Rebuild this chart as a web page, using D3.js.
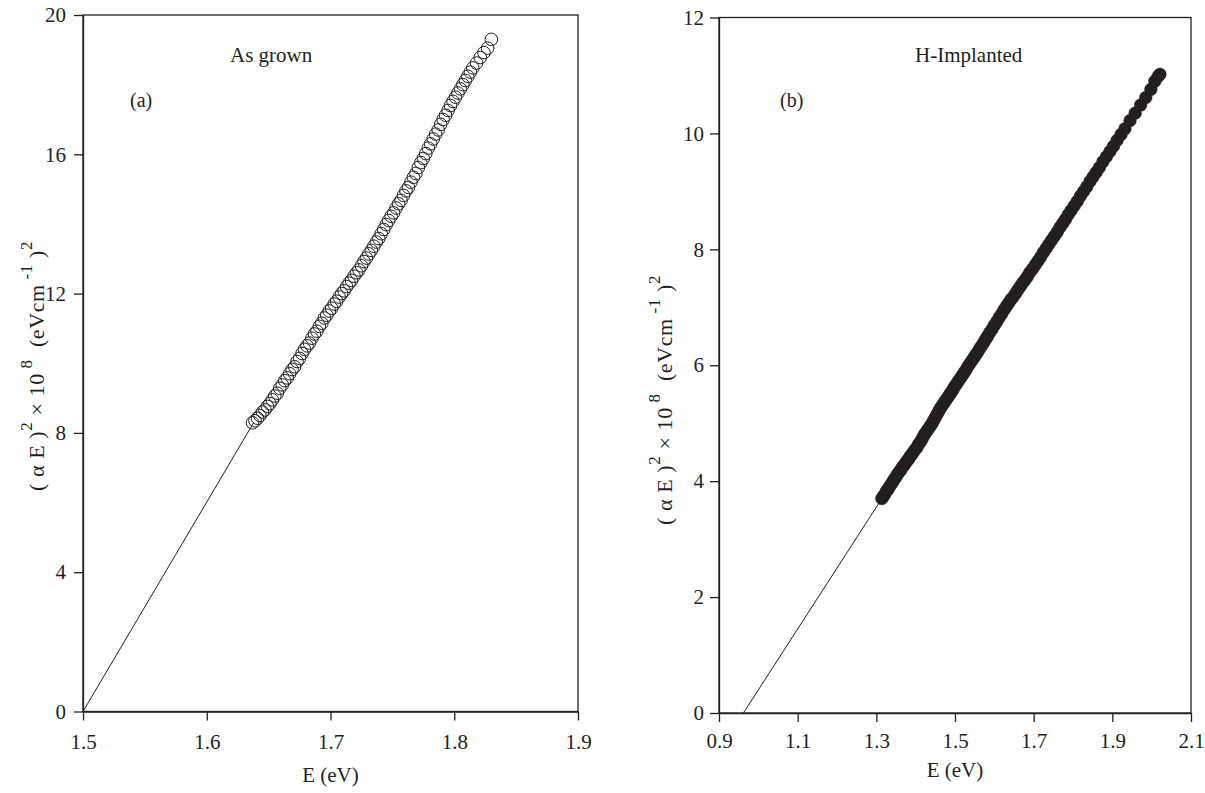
<!DOCTYPE html>
<html><head><meta charset="utf-8">
<script src="https://cdn.jsdelivr.net/npm/d3@7"></script>
<style>
body{margin:0;background:#fff;}
svg text{font-family:"Liberation Serif","DejaVu Serif",serif !important;fill:#231f20;}
</style></head>
<body><svg id="c" width="1205" height="793"></svg>
<script>
// ---- Panel (a): As grown ----
const grownE = [1.637,1.639,1.641,1.643,1.645,1.647,1.649,1.651,1.653,1.655,1.657,1.659,1.661,1.663,1.665,1.667,1.669,1.671,1.673,1.675,1.677,1.679,1.681,1.683,1.685,1.687,1.689,1.691,1.693,1.695,1.697,1.699,1.701,1.703,1.705,1.707,1.709,1.711,1.713,1.715,1.717,1.719,1.721,1.723,1.725,1.727,1.729,1.731,1.733,1.735,1.737,1.739,1.741,1.743,1.745,1.747,1.749,1.751,1.753,1.755,1.757,1.759,1.761,1.763,1.765,1.767,1.769,1.771,1.773,1.775,1.777,1.779,1.781,1.783,1.785,1.787,1.789,1.791,1.793,1.795,1.797,1.799,1.801,1.803,1.805,1.807,1.809,1.811,1.813,1.815,1.818,1.821,1.824,1.827,1.830];
const grownY = [8.29,8.35,8.42,8.50,8.60,8.66,8.76,8.84,8.95,9.06,9.14,9.28,9.38,9.50,9.58,9.70,9.82,9.90,10.05,10.14,10.28,10.40,10.50,10.58,10.72,10.84,10.92,11.06,11.15,11.30,11.38,11.50,11.58,11.70,11.78,11.90,12.00,12.08,12.20,12.30,12.38,12.50,12.60,12.68,12.80,12.92,13.02,13.14,13.24,13.36,13.48,13.58,13.72,13.84,13.98,14.10,14.22,14.32,14.46,14.58,14.68,14.82,14.95,15.05,15.20,15.34,15.45,15.62,15.76,15.88,16.02,16.18,16.30,16.44,16.58,16.70,16.86,17.00,17.12,17.26,17.40,17.52,17.64,17.76,17.88,18.00,18.12,18.24,18.36,18.48,18.62,18.78,18.92,19.05,19.30];
const grownFitE = [1.5, 1.638];
const grownFitY = [0, 8.3];
const grownXTicks = [1.5,1.6,1.7,1.8,1.9];
const grownYTicks = [0,4,8,12,16,20];

// ---- Panel (b): H-Implanted ----
const implE = [1.314,1.318,1.322,1.326,1.330,1.334,1.338,1.342,1.346,1.350,1.354,1.358,1.362,1.366,1.370,1.374,1.378,1.382,1.386,1.390,1.394,1.398,1.402,1.406,1.410,1.414,1.418,1.422,1.426,1.430,1.434,1.438,1.442,1.446,1.450,1.454,1.458,1.462,1.466,1.470,1.474,1.478,1.482,1.486,1.490,1.494,1.498,1.503,1.508,1.513,1.518,1.523,1.528,1.533,1.538,1.543,1.548,1.553,1.558,1.563,1.568,1.573,1.578,1.583,1.588,1.594,1.600,1.606,1.612,1.618,1.624,1.630,1.636,1.642,1.648,1.654,1.660,1.666,1.672,1.678,1.684,1.690,1.697,1.704,1.711,1.718,1.725,1.732,1.739,1.746,1.753,1.760,1.767,1.774,1.781,1.788,1.795,1.803,1.811,1.819,1.827,1.835,1.843,1.851,1.859,1.867,1.876,1.885,1.894,1.903,1.912,1.922,1.932,1.945,1.958,1.972,1.985,1.998,2.008,2.016,2.021];
const implY = [3.70,3.74,3.78,3.83,3.86,3.91,3.95,3.99,4.04,4.07,4.12,4.16,4.19,4.24,4.27,4.31,4.35,4.38,4.43,4.46,4.50,4.54,4.57,4.62,4.66,4.70,4.75,4.80,4.84,4.88,4.92,4.96,5.00,5.05,5.10,5.15,5.20,5.25,5.29,5.33,5.37,5.41,5.45,5.49,5.53,5.57,5.62,5.67,5.72,5.77,5.82,5.87,5.92,5.98,6.03,6.08,6.13,6.18,6.23,6.29,6.34,6.39,6.45,6.50,6.56,6.62,6.69,6.75,6.82,6.88,6.95,7.01,7.07,7.13,7.18,7.24,7.30,7.36,7.42,7.47,7.53,7.60,7.66,7.73,7.80,7.87,7.95,8.02,8.09,8.16,8.23,8.30,8.38,8.45,8.52,8.60,8.67,8.75,8.83,8.92,9.00,9.08,9.17,9.25,9.33,9.41,9.51,9.60,9.69,9.78,9.88,9.98,10.08,10.22,10.35,10.49,10.62,10.76,10.90,10.98,11.02];
const implFitE = [0.962, 1.316];
const implFitY = [0, 3.72];
const implXTicks = [0.9,1.1,1.3,1.5,1.7,1.9,2.1];
const implYTicks = [0,2,4,6,8,10,12];

const svg = d3.select("#c");
const INK = "#231f20";
const FONT = "Liberation Serif, DejaVu Serif, serif";

function panel(cfg){
  const x = d3.scaleLinear().domain(cfg.xDom).range(cfg.xR);
  const y = d3.scaleLinear().domain(cfg.yDom).range(cfg.yR);
  const g = svg.append("g");
  g.append("rect").attr("x",cfg.xR[0]).attr("y",cfg.yR[1])
    .attr("width",cfg.xR[1]-cfg.xR[0]).attr("height",cfg.yR[0]-cfg.yR[1])
    .attr("fill","none").attr("stroke",INK).attr("stroke-width",1.3);
  const xa = g.append("g").attr("transform",`translate(0,${cfg.yR[0]})`)
    .call(d3.axisBottom(x).tickValues(cfg.xTicks).tickFormat(d3.format(".1f")).tickSize(9).tickPadding(cfg.xPad).tickSizeOuter(0));
  const ya = g.append("g").attr("transform",`translate(${cfg.xR[0]},0)`)
    .call(d3.axisLeft(y).tickValues(cfg.yTicks).tickFormat(d3.format("d")).tickSize(9).tickPadding(cfg.yPad).tickSizeOuter(0));
  [xa,ya].forEach(a=>{
    a.attr("font-family",FONT);
    a.select(".domain").attr("stroke",INK).attr("stroke-width",1.3);
    a.selectAll(".tick line").attr("stroke",INK).attr("stroke-width",1.3);
    a.selectAll(".tick text").attr("font-size",21).attr("fill",INK);
  });
  const line = d3.line().x(d=>x(d[0])).y(d=>y(d[1]));
  g.append("path").datum(cfg.fitE.map((e,i)=>[e,cfg.fitY[i]]))
    .attr("d",line).attr("fill","none").attr("stroke",INK).attr("stroke-width",1);
  g.selectAll("circle.pt").data(cfg.E.map((e,i)=>[e,cfg.Y[i]])).enter().append("circle")
    .attr("class","pt").attr("cx",d=>x(d[0])).attr("cy",d=>y(d[1])).attr("r",6.3)
    .attr("fill",cfg.filled?INK:"none").attr("stroke",INK).attr("stroke-width",cfg.filled?0.5:1);
  g.append("text").attr("x",(cfg.xR[0]+cfg.xR[1])/2).attr("y",cfg.xTitleY)
    .attr("text-anchor","middle").attr("font-size",21).attr("font-family",FONT).text("E (eV)");
  const yt = g.append("text").attr("transform",`translate(${cfg.yTitleX},${cfg.yTitleY}) rotate(-90)`)
    .attr("text-anchor","middle").attr("font-size",22).attr("font-family",FONT)
    .attr("letter-spacing",0.6).style("white-space","pre");
  yt.append("tspan").text("( \u03B1 E )");
  yt.append("tspan").attr("dy",-12).attr("font-size",17).text("2");
  yt.append("tspan").attr("dy",12).text(" \u00D7 10");
  yt.append("tspan").attr("dy",-12).attr("font-size",17).text(" 8");
  yt.append("tspan").attr("dy",12).text("  (eVcm");
  yt.append("tspan").attr("dy",-12).attr("font-size",17).text(" -1");
  yt.append("tspan").attr("dy",12).text(" )");
  yt.append("tspan").attr("dy",-12).attr("font-size",17).text("2");
  g.append("text").attr("x",cfg.nameX).attr("y",62).attr("font-size",21).attr("font-family",FONT).text(cfg.name);
  g.append("text").attr("x",cfg.tagX).attr("y",107).attr("font-size",20).attr("font-family",FONT).text(cfg.tag);
}

panel({xDom:[1.5,1.9], xR:[83,578], yDom:[0,20], yR:[711.5,15],
  xTicks:grownXTicks, yTicks:grownYTicks, xPad:14, yPad:8,
  E:grownE, Y:grownY, fitE:grownFitE, fitY:grownFitY, filled:false,
  xTitleY:782, yTitleX:44, yTitleY:366, name:"As grown", nameX:230, tag:"(a)", tagX:130});

panel({xDom:[0.9,2.1], xR:[719,1191], yDom:[0,12], yR:[713,17.5],
  xTicks:implXTicks, yTicks:implYTicks, xPad:11, yPad:6,
  E:implE, Y:implY, fitE:implFitE, fitY:implFitY, filled:true,
  xTitleY:777, yTitleX:672, yTitleY:400, name:"H-Implanted", nameX:915, tag:"(b)", tagX:780});
</script></body></html>
